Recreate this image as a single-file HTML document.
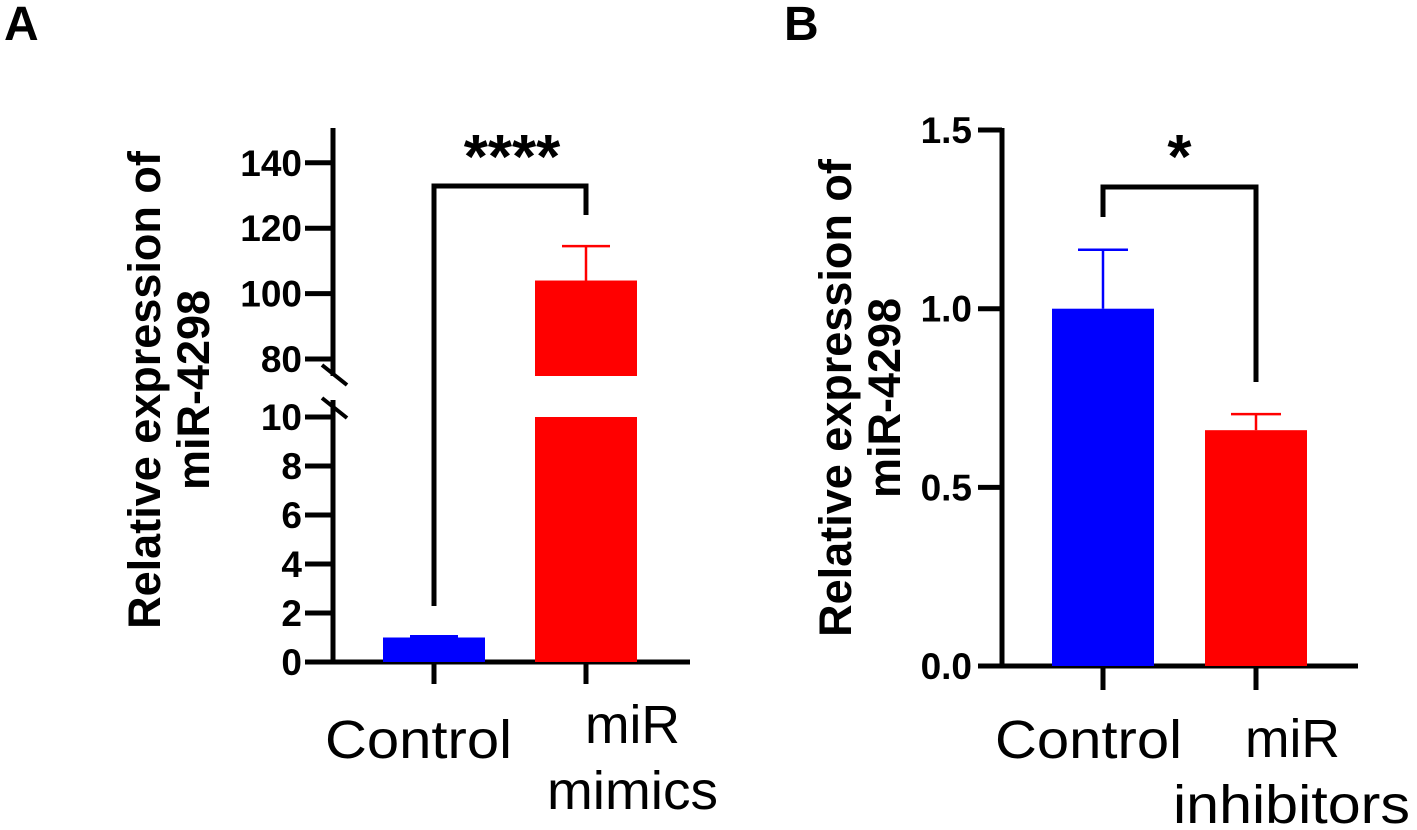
<!DOCTYPE html>
<html><head><meta charset="utf-8"><style>
html,body{margin:0;padding:0;background:#fff;}
svg{display:block;font-family:"Liberation Sans",Arial,sans-serif;}
</style></head><body>
<svg id="fig" width="1417" height="830" viewBox="0 0 1417 830">
<text x="4" y="40" font-size="48" font-weight="bold">A</text>
<text x="784" y="40" font-size="48" font-weight="bold">B</text>
<g id="pa"></g>
<g id="pb"></g>
</svg>
<script>
// Panel A data
const catsA = ["Control", "miR mimics"];
const valsA = [1.0, 104];
const errA = [0.05, 10.5];
const ticksLowA = [0, 2, 4, 6, 8, 10];
const ticksHighA = [80, 100, 120, 140];
// Panel B data
const catsB = ["Control", "miR inhibitors"];
const valsB = [1.0, 0.66];
const errB = [0.165, 0.045];
const ticksB = [0.0, 0.5, 1.0, 1.5];
const tickLabelsB = ["0.0", "0.5", "1.0", "1.5"];
const colors = ["#0000ff", "#ff0000"];

const NS = "http://www.w3.org/2000/svg";
function mk(parent, tag, attrs) {
  const e = document.createElementNS(NS, tag);
  for (const k in attrs) e.setAttribute(k, attrs[k]);
  parent.appendChild(e);
  return e;
}
function line(p, x1, y1, x2, y2, w, c) {
  return mk(p, "line", {x1, y1, x2, y2, stroke: c || "#000", "stroke-width": w});
}

// ---------- Panel A ----------
const pa = document.getElementById("pa");
const axA = 333;
const yLow = v => 662 - v * 24.5;
const yHigh = v => 359 - (v - 80) * 3.27;
const xA = i => 434 + i * 152;
const bw = 102;

let el = line(pa, axA, 128, axA, 376, 5);


el = line(pa, axA, 400, axA, 664, 5);


el = line(pa, 322, 365, 347, 385, 4);


el = line(pa, 322, 398, 347, 418, 4);


el = line(pa, 310, 662, 690, 662, 5);



ticksLowA.forEach(t => {
  const y = yLow(t);
  const tk = line(pa, 305, y, axA, y, 5);
  
  
  const tx = mk(pa, "text", {x: 302, y: y + 13, "text-anchor": "end", "font-size": 37, "font-weight": "bold"});
  tx.textContent = String(t);
  
  
});
ticksHighA.forEach(t => {
  const y = yHigh(t);
  const tk = line(pa, 305, y, axA, y, 5);
  
  
  const tx = mk(pa, "text", {x: 302, y: y + 13, "text-anchor": "end", "font-size": 37, "font-weight": "bold"});
  tx.textContent = String(t);
  
  
});

valsA.forEach((v, i) => {
  const cx = xA(i);
  const c = colors[i];
  const top = v + errA[i];
  if (v <= 10) {
    const ey = yLow(Math.min(top, 10));
    const e1 = line(pa, cx, yLow(v), cx, ey, 2.5, c);
    
    
    const e2 = line(pa, cx - 24, ey, cx + 24, ey, 2.5, c);
    
    
    const r = mk(pa, "rect", {x: cx - bw / 2, y: yLow(v), width: bw, height: 662 - yLow(v), fill: c});
    
    
  } else {
    const r1 = mk(pa, "rect", {x: cx - bw / 2, y: yLow(10), width: bw, height: 662 - yLow(10), fill: c});
    
    
    const r2 = mk(pa, "rect", {x: cx - bw / 2, y: yHigh(v), width: bw, height: 376 - yHigh(v), fill: c});
    
    
    const e1 = line(pa, cx, yHigh(v), cx, yHigh(top), 2.5, c);
    
    
    const e2 = line(pa, cx - 24, yHigh(top), cx + 24, yHigh(top), 2.5, c);
    
    
  }
  const xt = line(pa, cx, 662, cx, 684, 5);
  
  
});
el = mk(pa, "polyline", {points: `${xA(0)},606 ${xA(0)},186 ${xA(1)},186 ${xA(1)},215`, fill: "none", stroke: "#000", "stroke-width": 5});


el = mk(pa, "text", {x: (xA(0) + xA(1)) / 2 + 2, y: 178, "text-anchor": "middle", "font-size": 62, "font-weight": "bold"});
el.textContent = "****";



// ---------- Panel B ----------
const pb = document.getElementById("pb");
const axB = 1002;
const yB = v => 666 - v * 357.3;
const xB = i => 1103 + i * 153;
el = line(pb, axB, 128, axB, 668, 5);


el = line(pb, 978, 666, 1358, 666, 5);


ticksB.forEach((t, k) => {
  const y = yB(t);
  const tk = line(pb, 978, y, axB, y, 5);
  
  
  const tx = mk(pb, "text", {x: 972, y: y + 13, "text-anchor": "end", "font-size": 37, "font-weight": "bold"});
  tx.textContent = tickLabelsB[k];
  
  
});
valsB.forEach((v, i) => {
  const cx = xB(i);
  const c = colors[i];
  const top = v + errB[i];
  const e1 = line(pb, cx, yB(v), cx, yB(top), 2.5, c);
  
  
  const e2 = line(pb, cx - 25, yB(top), cx + 25, yB(top), 2.5, c);
  
  
  const r = mk(pb, "rect", {x: cx - bw / 2, y: yB(v), width: bw, height: 666 - yB(v), fill: c});
  
  
  const xt = line(pb, cx, 666, cx, 690, 5);
  
  
});
el = mk(pb, "polyline", {points: `${xB(0)},217 ${xB(0)},187 ${xB(1)},187 ${xB(1)},382`, fill: "none", stroke: "#000", "stroke-width": 5});


el = mk(pb, "text", {x: (xB(0) + xB(1)) / 2, y: 178, "text-anchor": "middle", "font-size": 62, "font-weight": "bold"});
el.textContent = "*";


</script>
<svg style="position:absolute;left:0;top:0" width="1417" height="830">
<g font-family="Liberation Sans, Arial, sans-serif">
<text transform="translate(160,390) rotate(-90)" text-anchor="middle" font-size="45" font-weight="bold">Relative expression of</text>
<text transform="translate(209,390) rotate(-90)" text-anchor="middle" font-size="45" font-weight="bold">miR-4298</text>
<text transform="translate(851,398) rotate(-90)" text-anchor="middle" font-size="45" font-weight="bold">Relative expression of</text>
<text transform="translate(900,398) rotate(-90)" text-anchor="middle" font-size="45" font-weight="bold">miR-4298</text>
<text x="325" y="758" font-size="54" textLength="187" lengthAdjust="spacingAndGlyphs">Control</text>
<text x="585" y="743" font-size="54" textLength="95" lengthAdjust="spacingAndGlyphs">miR</text>
<text x="547" y="809" font-size="54" textLength="171" lengthAdjust="spacingAndGlyphs">mimics</text>
<text x="995" y="758" font-size="54" textLength="187" lengthAdjust="spacingAndGlyphs">Control</text>
<text x="1245" y="757" font-size="54" textLength="95" lengthAdjust="spacingAndGlyphs">miR</text>
<text x="1173" y="823" font-size="54" textLength="237" lengthAdjust="spacingAndGlyphs">inhibitors</text>
</g>
</svg>
</body></html>
